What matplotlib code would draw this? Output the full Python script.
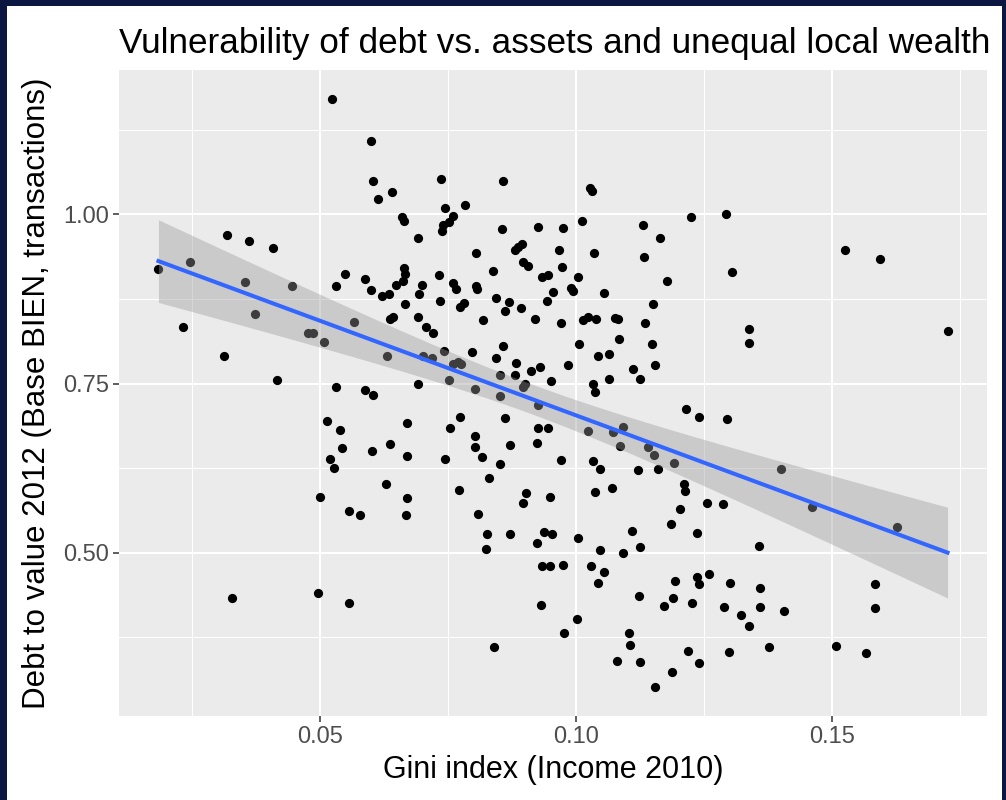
import numpy as np
import matplotlib
matplotlib.use("Agg")
from matplotlib import pyplot as plt
from matplotlib.patches import Rectangle

plt.rcParams['font.family'] = ['Liberation Sans', 'DejaVu Sans']

# Gini index (Income 2010) and debt to value ratio, one pair per commune
gini = [
    0.0523, 0.0600, 0.0604, 0.0641, 0.0613, 0.0661, 0.0665, 0.0319, 0.0361, 0.0408,
    0.0185, 0.0247, 0.0354, 0.0446, 0.0373, 0.0233, 0.0313, 0.0416, 0.0476, 0.0487,
    0.0509, 0.0567, 0.0631, 0.0532, 0.0549, 0.0589, 0.0600, 0.0622, 0.0634, 0.0648,
    0.0664, 0.0667, 0.0662, 0.0666, 0.0642, 0.0637, 0.0532, 0.0589,
    0.0737, 0.0858, 0.1027, 0.1031, 0.0745, 0.0783, 0.0759, 0.0753, 0.0740, 0.0738,
    0.0692, 0.0855, 0.0926, 0.0974, 0.1012, 0.1130, 0.1163, 0.1225, 0.0805, 0.0881,
    0.0887, 0.0895, 0.0967, 0.1035, 0.1132, 0.0732, 0.0837, 0.0897, 0.0906, 0.0973,
    0.0933, 0.0946, 0.1003, 0.0700, 0.0694, 0.0760, 0.0766, 0.0805, 0.0806, 0.0955,
    0.0990, 0.0994, 0.1055, 0.1177, 0.0734, 0.0773, 0.0782, 0.0843, 0.0869, 0.0861,
    0.0893, 0.0943, 0.1150, 0.0819, 0.0920, 0.0970, 0.1014, 0.1024, 0.1038, 0.1076,
    0.1081, 0.1134, 0.0691, 0.0707, 0.0721, 0.1005, 0.1084, 0.1149, 0.0857, 0.0796,
    0.0743, 0.0770, 0.0760, 0.0775, 0.0702, 0.0718, 0.0844, 0.0882, 0.1043, 0.1065,
    0.0984, 0.1112, 0.1154, 0.0852, 0.0880, 0.0913, 0.0930, 0.0753, 0.0691, 0.0952,
    0.1033, 0.1064, 0.1125, 0.0900, 0.0803,
    0.1292, 0.1525, 0.1593, 0.1305, 0.1337, 0.1337, 0.1725,
    0.0604, 0.0513, 0.0539, 0.0544, 0.0601, 0.0637, 0.0671, 0.0671, 0.0519, 0.0527,
    0.0630, 0.0501, 0.0557, 0.0579, 0.0671, 0.0669, 0.0328, 0.0497, 0.0557,
    0.0852, 0.0897, 0.1037, 0.0925, 0.0773, 0.0754, 0.0861, 0.0926, 0.0946, 0.1024,
    0.1073, 0.1092, 0.1086, 0.1141, 0.1153, 0.1191, 0.1214, 0.1239, 0.0803, 0.0803,
    0.0816, 0.0872, 0.0923, 0.0744, 0.0852, 0.0970, 0.1034, 0.1047, 0.1120, 0.1159,
    0.0830, 0.0772, 0.0903, 0.0897, 0.0949, 0.1036, 0.1071, 0.1211, 0.1212, 0.1203,
    0.1185, 0.0809, 0.0827, 0.0825, 0.0871, 0.0938, 0.0953, 0.0923, 0.1004, 0.1110,
    0.1125, 0.1047, 0.1092, 0.1237, 0.0933, 0.0949, 0.0974, 0.1029, 0.1055, 0.1043,
    0.1193, 0.1236, 0.1239, 0.1122, 0.1189, 0.1171, 0.1226, 0.0932, 0.1001, 0.0977,
    0.0840, 0.1104, 0.1106, 0.1079, 0.1125, 0.1219, 0.1239, 0.1188, 0.1154,
    0.1294, 0.1400, 0.1460, 0.1626, 0.1255, 0.1286, 0.1357, 0.1260, 0.1301, 0.1359,
    0.1584, 0.1584, 0.1289, 0.1322, 0.1337, 0.1359, 0.1406, 0.1298, 0.1377, 0.1508,
    0.1566,
]
debt_to_value = [
    1.170, 1.108, 1.050, 1.033, 1.023, 0.996, 0.990, 0.969, 0.961, 0.950,
    0.920, 0.929, 0.900, 0.894, 0.853, 0.833, 0.791, 0.755, 0.824, 0.825,
    0.811, 0.841, 0.791, 0.894, 0.912, 0.905, 0.888, 0.880, 0.883, 0.896,
    0.921, 0.912, 0.902, 0.868, 0.848, 0.845, 0.745, 0.741,
    1.053, 1.050, 1.039, 1.034, 1.009, 1.014, 0.997, 0.989, 0.984, 0.976,
    0.965, 0.978, 0.981, 0.980, 0.990, 0.984, 0.965, 0.996, 0.943, 0.947,
    0.952, 0.956, 0.948, 0.943, 0.937, 0.910, 0.917, 0.930, 0.923, 0.922,
    0.907, 0.910, 0.907, 0.895, 0.883, 0.898, 0.889, 0.894, 0.890, 0.885,
    0.891, 0.887, 0.884, 0.901, 0.872, 0.863, 0.869, 0.877, 0.871, 0.857,
    0.862, 0.872, 0.867, 0.844, 0.845, 0.839, 0.844, 0.848, 0.845, 0.847,
    0.846, 0.839, 0.848, 0.833, 0.824, 0.808, 0.816, 0.808, 0.806, 0.796,
    0.798, 0.782, 0.779, 0.779, 0.791, 0.788, 0.788, 0.781, 0.791, 0.793,
    0.777, 0.772, 0.777, 0.763, 0.763, 0.769, 0.774, 0.755, 0.750, 0.753,
    0.749, 0.757, 0.757, 0.750, 0.742,
    1.000, 0.947, 0.934, 0.915, 0.831, 0.810, 0.828,
    0.733, 0.695, 0.682, 0.654, 0.651, 0.660, 0.692, 0.643, 0.638, 0.625,
    0.601, 0.583, 0.561, 0.555, 0.581, 0.555, 0.433, 0.440, 0.426,
    0.731, 0.745, 0.737, 0.719, 0.701, 0.684, 0.699, 0.685, 0.684, 0.680,
    0.678, 0.686, 0.658, 0.656, 0.645, 0.632, 0.712, 0.700, 0.672, 0.656,
    0.642, 0.659, 0.662, 0.638, 0.631, 0.637, 0.635, 0.624, 0.622, 0.623,
    0.611, 0.592, 0.588, 0.574, 0.583, 0.589, 0.595, 0.601, 0.591, 0.564,
    0.542, 0.557, 0.528, 0.506, 0.527, 0.530, 0.527, 0.514, 0.521, 0.532,
    0.509, 0.504, 0.499, 0.529, 0.481, 0.481, 0.482, 0.480, 0.471, 0.455,
    0.458, 0.464, 0.454, 0.436, 0.433, 0.421, 0.425, 0.422, 0.402, 0.382,
    0.360, 0.382, 0.364, 0.340, 0.338, 0.354, 0.337, 0.324, 0.302,
    0.697, 0.624, 0.568, 0.538, 0.574, 0.572, 0.510, 0.468, 0.455, 0.448,
    0.454, 0.418, 0.419, 0.408, 0.392, 0.420, 0.414, 0.353, 0.360, 0.362,
    0.352,
]
x_ticks = [0.05, 0.10, 0.15]
x_labels = ['0.05', '0.10', '0.15']
y_ticks = [0.50, 0.75, 1.00]
y_labels = ['0.50', '0.75', '1.00']

x = np.array(gini)
y = np.array(debt_to_value)

# linear fit with 95% confidence band (like geom_smooth(method="lm"))
n = len(x)
b, a = np.polyfit(x, y, 1)
xs = np.linspace(x.min(), x.max(), 100)
fit = a + b * xs
resid = y - (a + b * x)
s = np.sqrt(np.sum(resid ** 2) / (n - 2))
se = s * np.sqrt(1.0 / n + (xs - x.mean()) ** 2 / np.sum((x - x.mean()) ** 2))
tval = 1.968

fig = plt.figure(figsize=(10.06, 8.0), dpi=100, facecolor='white')
ax = fig.add_axes([119 / 1006, 1 - 716 / 800, 868 / 1006, 646 / 800])
ax.set_facecolor('#EBEBEB')

ax.scatter(x, y, s=44, color='black', linewidths=0, zorder=3)
ax.fill_between(xs, fit - tval * se, fit + tval * se, color='#999999', alpha=0.4,
                linewidth=0, zorder=4)
ax.plot(xs, fit, color='#3366FF', linewidth=2.9, zorder=5)

xr = x.max() - x.min()
yr = y.max() - y.min()
ax.set_xlim(x.min() - 0.05 * xr, x.max() + 0.05 * xr)
ax.set_ylim(y.min() - 0.05 * yr, y.max() + 0.05 * yr)

ax.set_xticks(x_ticks)
ax.set_xticklabels(x_labels)
ax.set_yticks(y_ticks)
ax.set_yticklabels(y_labels)
ax.set_xticks([0.025, 0.075, 0.125, 0.175], minor=True)
ax.set_yticks([0.375, 0.625, 0.875, 1.125], minor=True)
ax.grid(which='major', color='white', linewidth=1.5, zorder=1)
ax.grid(which='minor', color='white', linewidth=0.75, zorder=1)
ax.set_axisbelow(True)
ax.tick_params(which='major', length=4, width=1.1, color='#333333',
               labelsize=17, labelcolor='#4D4D4D', pad=3)
ax.tick_params(which='minor', length=0)
for sp in ax.spines.values():
    sp.set_visible(False)

ax.set_xlabel('Gini index (Income 2010)', fontsize=22, labelpad=5)
ax.set_ylabel('Debt to value 2012 (Base BIEN, transactions)', fontsize=22.5, labelpad=8)
ax.set_title('Vulnerability of debt vs. assets and unequal local wealth',
             loc='left', fontsize=25.3, pad=12)

# dark frame around the screenshot
navy = '#0B1740'
for r in [(0, 0, 7 / 1006, 1), (0, 1 - 6 / 800, 1, 6 / 800), (1002 / 1006, 0, 4 / 1006, 1)]:
    fig.add_artist(Rectangle((r[0], r[1]), r[2], r[3], transform=fig.transFigure,
                             facecolor=navy, edgecolor='none', zorder=10))

fig.savefig('out.png', dpi=100)
